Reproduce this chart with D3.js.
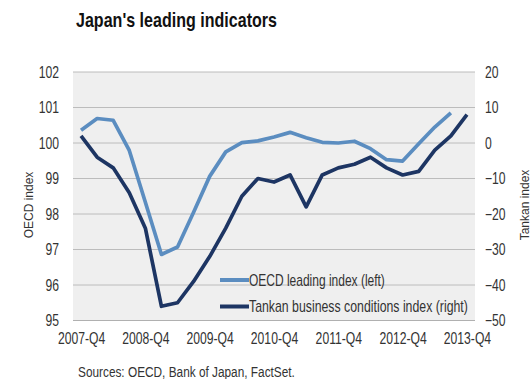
<!DOCTYPE html>
<html>
<head>
<meta charset="utf-8">
<script src="https://cdn.jsdelivr.net/npm/d3@7"></script>
<style>
  html, body { margin: 0; padding: 0; background: #fff; }
  svg { display: block; }
  text { font-family: "Liberation Sans", Arial, sans-serif; fill: #333; }
</style>
</head>
<body>
<svg id="chart" width="531" height="379"></svg>
<script>
// Quarterly observations, 2007-Q4 .. 2013-Q4
const quarters = [
  "2007-Q4","2008-Q1","2008-Q2","2008-Q3","2008-Q4",
  "2009-Q1","2009-Q2","2009-Q3","2009-Q4",
  "2010-Q1","2010-Q2","2010-Q3","2010-Q4",
  "2011-Q1","2011-Q2","2011-Q3","2011-Q4",
  "2012-Q1","2012-Q2","2012-Q3","2012-Q4",
  "2013-Q1","2013-Q2","2013-Q3","2013-Q4"
];
// OECD composite leading indicator (left axis); no value yet for 2013-Q4
const oecdLeading = [
  100.36, 100.69, 100.64, 99.79, 98.33,
  96.86, 97.07, 98.05, 99.06,
  99.75, 100.01, 100.06, 100.17,
  100.30, 100.15, 100.02, 100.00,
  100.05, 99.84, 99.53, 99.49,
  99.98, 100.45, 100.85, null
];
// Tankan business conditions DI (right axis)
const tankan = [
  2, -4, -7, -14, -24,
  -46, -45, -39, -32,
  -24, -15, -10, -11,
  -9, -18, -9, -7,
  -6, -4, -7, -9,
  -8, -2, 2, 8
];
const leftTicks = [95, 96, 97, 98, 99, 100, 101, 102];
const rightTicks = [-50, -40, -30, -20, -10, 0, 10, 20];
const xTickLabels = ["2007-Q4","2008-Q4","2009-Q4","2010-Q4","2011-Q4","2012-Q4","2013-Q4"];

const titleText = "Japan's leading indicators";
const leftTitle = "OECD index";
const rightTitle = "Tankan index";
const seriesNames = ["OECD leading index (left)", "Tankan business conditions index (right)"];
const sourceText = "Sources: OECD, Bank of Japan, FactSet.";

const colLight = "#5b8dc0";
const colDark = "#1d3563";

const svg = d3.select("#chart");
const plot = { left: 73, right: 475, top: 72, bottom: 320.5 };

const x = d3.scalePoint().domain(quarters).range([plot.left, plot.right]).padding(0.5);
const yL = d3.scaleLinear().domain([95, 102]).range([plot.bottom, plot.top]);
const yR = d3.scaleLinear().domain([-50, 20]).range([plot.bottom, plot.top]);

// Narrow-face look: squeeze a text horizontally around its anchor point,
// either by a fixed factor or to a target width.
function squeeze(node, { factor = null, width = null } = {}) {
  const t = d3.select(node);
  const len = node.getComputedTextLength();
  const s = factor != null ? factor : width / len;
  const tx = +t.attr("x") || 0, ty = +t.attr("y") || 0;
  t.attr("x", 0).attr("y", 0).attr("transform", `translate(${tx},${ty}) scale(${s},1)`);
}

// plot background
svg.append("rect")
  .attr("x", plot.left).attr("y", plot.top)
  .attr("width", plot.right - plot.left).attr("height", plot.bottom - plot.top)
  .attr("fill", "#efefef");

// horizontal gridlines
svg.append("g").selectAll("line").data(leftTicks.slice(1)).join("line")
  .attr("x1", plot.left).attr("x2", plot.right)
  .attr("y1", d => yL(d)).attr("y2", d => yL(d))
  .attr("stroke", "#bcbcbc").attr("stroke-width", 1);

const tickFont = 16;

// left axis
const gL = svg.append("g").attr("class", "ticks").attr("transform", `translate(${plot.left},0)`)
  .call(d3.axisLeft(yL).tickValues(leftTicks).tickFormat(d3.format("d")).tickSize(0).tickPadding(14));
gL.select(".domain").remove();

// right axis
const gR = svg.append("g").attr("class", "ticks").attr("transform", `translate(${plot.right},0)`)
  .call(d3.axisRight(yR).tickValues(rightTicks).tickFormat(d3.format("d")).tickSize(0).tickPadding(10));
gR.select(".domain").remove();

// bottom axis
const gB = svg.append("g").attr("class", "ticks").attr("transform", `translate(0,${plot.bottom})`)
  .call(d3.axisBottom(x).tickValues(xTickLabels).tickSize(0).tickPadding(12.5));
gB.select(".domain").attr("stroke", "#b0b0b0").attr("d", `M${plot.left},0H${plot.right}`);

svg.selectAll(".ticks text")
  .attr("font-size", tickFont).style("font-family", null).attr("fill", "#3a3a3a")
  .each(function () { squeeze(this, { factor: 0.76 }); });

// series lines
const lineL = d3.line().defined(d => d != null).x((d, i) => x(quarters[i])).y(d => yL(d));
const lineR = d3.line().x((d, i) => x(quarters[i])).y(d => yR(d));

svg.append("path").datum(oecdLeading)
  .attr("d", lineL).attr("fill", "none").attr("stroke", colLight)
  .attr("stroke-width", 3.7).attr("stroke-linejoin", "round");
svg.append("path").datum(tankan)
  .attr("d", lineR).attr("fill", "none").attr("stroke", colDark)
  .attr("stroke-width", 3.7).attr("stroke-linejoin", "round");

// legend
const legend = svg.append("g");
[[colLight, 280, seriesNames[0], 136], [colDark, 306.5, seriesNames[1], 219]].forEach(([c, yy, label, w]) => {
  legend.append("line").attr("x1", 220).attr("x2", 249).attr("y1", yy).attr("y2", yy)
    .attr("stroke", c).attr("stroke-width", 4);
  const t = legend.append("text").attr("x", 249).attr("y", yy + 5.5).attr("font-size", 16).text(label);
  squeeze(t.node(), { width: w });
});

// title
const title = svg.append("text").attr("x", 76).attr("y", 27)
  .attr("font-size", 19.5).attr("font-weight", "bold")
  .style("fill", "#111").text(titleText);
squeeze(title.node(), { width: 201 });

// axis titles
svg.append("text").attr("transform", "translate(33,205) rotate(-90)")
  .attr("text-anchor", "middle").attr("font-size", 12).text(leftTitle);
svg.append("text").attr("transform", "translate(528.5,205) rotate(-90)")
  .attr("text-anchor", "middle").attr("font-size", 12).text(rightTitle);

// source note
const source = svg.append("text").attr("x", 78).attr("y", 377).attr("font-size", 15).text(sourceText);
squeeze(source.node(), { width: 217 });
</script>
</body>
</html>
